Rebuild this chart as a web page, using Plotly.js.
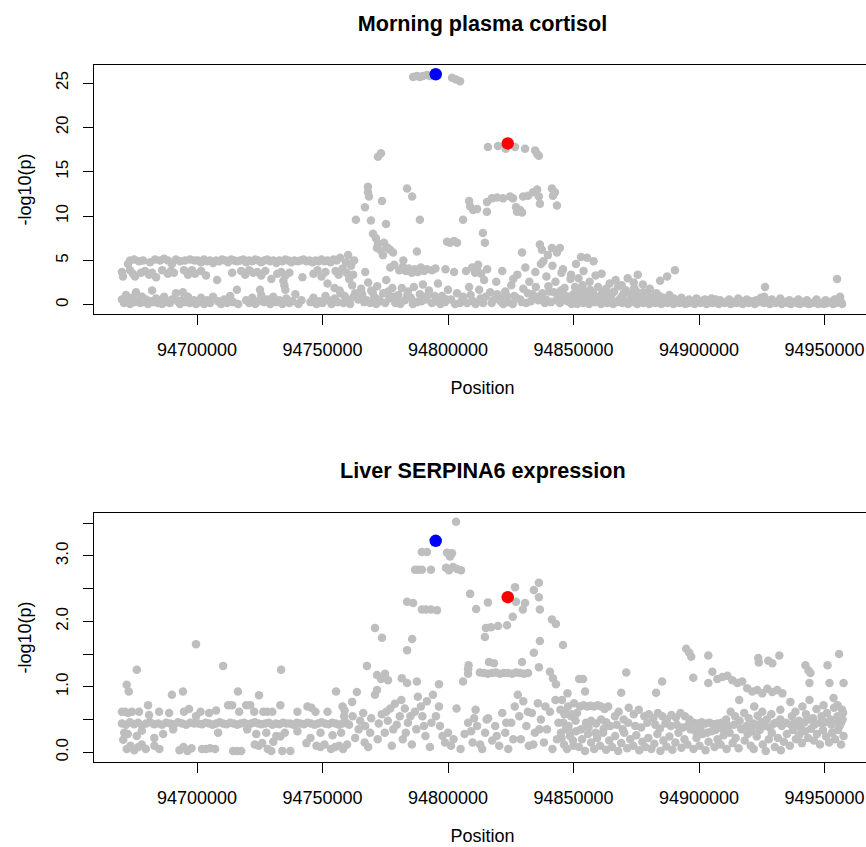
<!DOCTYPE html>
<html>
<head>
<meta charset="utf-8">
<script src="https://cdn.plot.ly/plotly-3.0.1.min.js"></script>
<style>
html, body { margin:0; padding:0; overflow:hidden; background:#fff; }
#chart { width:880px; height:847px; }
</style>
</head>
<body>
<div id="chart"></div>
<script>
// ---------- DATA (positions in kb, values are -log10(p)) ----------
const positionTickValues = [94700000, 94750000, 94800000, 94850000, 94900000, 94950000];
const positionTickLabels = ['94700000','94750000','94800000','94850000','94900000','94950000'];

const leadPosKb = [94795.1, 94823.8];
const leadColors = ['#0000FF', '#FF0000'];
const cortisolLead = [26.0, 18.2];
const expressionLead = [3.23, 2.37];

// Morning plasma cortisol
const cortisolLeft = [
[94672.5,4.6],[94673.3,5.0],[94675.0,5.1],[94676.9,4.9],[94678.5,5.0],[94681.3,4.8],[94683.3,5.1],[94685.3,5.0],[94686.9,5.2],[94688.4,5.0],[94690.0,4.6],[94691.6,5.1],[94693.2,4.9],[94695.2,5.0],[94697.2,5.1],[94699.0,5.0],
[94670.1,3.7],[94670.5,3.2],[94673.3,3.9],[94674.5,3.5],[94675.3,3.2],[94677.7,3.6],[94679.3,3.8],[94680.9,3.4],[94682.1,3.6],[94683.7,3.1],[94686.1,3.9],[94688.4,3.5],[94689.6,3.8],[94690.8,3.6],[94694.8,3.9],[94696.4,3.4],
[94670.1,0.6],[94670.9,0.2],[94671.7,1.1],[94672.5,0.4],[94673.3,0.1],[94674.1,0.8],[94674.9,0.3],[94675.7,1.4],[94676.5,0.5],[94677.3,0.2],[94678.1,0.9],[94678.9,0.3],[94679.7,0.6],[94680.5,0.1],[94681.3,0.4],[94682.1,1.6],[94682.9,0.3],[94683.7,0.7],[94684.5,0.2],[94685.3,0.5],[94686.1,0.1],[94686.9,0.9],[94687.7,0.3],[94689.2,0.2],[94690.0,0.6],[94691.6,1.3],[94692.4,0.4],[94693.2,0.1],[94694.0,0.5],[94695.6,0.3],[94696.4,0.9],[94697.2,0.2],[94698.8,0.5],[94699.6,0.1]
];
const cortisolMid = [
[94700.4,5.0],[94701.6,4.8],[94702.8,5.1],[94704.0,4.9],[94705.2,5.0],[94706.4,4.7],[94707.6,5.0],[94708.8,4.9],[94710.0,5.1],[94711.2,5.0],[94712.4,4.8],[94713.6,5.1],[94714.8,5.0],[94716.0,4.9],[94717.2,5.0],[94718.4,5.1],[94719.6,4.8],[94720.8,5.0],[94722.0,4.9],[94723.2,5.1],[94724.4,5.0],[94725.6,4.8],[94726.8,5.0],[94728.0,5.1],[94729.2,4.9],[94730.4,5.0],[94731.6,4.7],[94732.8,5.0],[94734.0,4.9],[94735.2,5.1],[94736.4,5.0],[94737.6,4.8],[94738.8,5.0],[94740.0,4.9],[94741.2,5.0],[94742.4,5.1],[94743.6,4.9],[94744.8,5.0],[94746.0,4.8],[94747.2,5.0],[94748.4,4.9],[94749.6,5.1],[94750.8,4.9],[94752.0,5.0],[94753.2,4.8],[94754.4,5.1],[94755.6,5.0],
[94698.0,3.9],[94699.2,3.5],[94701.6,3.8],[94703.6,3.3],[94708.0,2.8],[94714.0,3.6],[94717.6,3.8],[94719.2,3.4],[94720.8,3.9],[94722.4,3.6],[94724.0,3.7],[94725.6,3.3],[94727.2,3.8],[94729.6,2.9],[94732.0,3.5],[94733.6,3.7],[94735.2,3.3],[94736.8,3.6],[94742.0,3.1],[94746.4,3.5],[94748.0,3.9],[94749.6,3.2],[94751.2,3.7],[94755.2,3.8],[94756.4,3.4],[94758.0,4.1],[94759.6,3.6],
[94734.4,2.7],[94734.8,2.2],[94735.2,1.7],[94752.0,2.4],[94754.8,1.9],[94756.8,1.6],[94715.9,1.7],[94725.1,1.7],[94694.4,1.4],
[94700.4,0.3],[94701.6,0.8],[94702.8,0.1],[94704.0,0.5],[94705.2,0.2],[94706.4,0.9],[94708.4,0.4],[94709.6,0.1],[94710.8,0.6],[94712.0,0.2],[94713.2,1.0],[94714.4,0.3],[94716.4,0.1],[94719.6,0.5],[94720.8,0.2],[94722.0,0.8],[94723.2,0.1],[94724.4,0.4],[94725.6,1.1],[94726.8,0.3],[94728.0,0.6],[94729.2,0.1],[94730.4,0.9],[94731.6,0.3],[94732.8,0.5],[94734.0,0.1],[94735.6,0.7],[94736.8,0.2],[94738.0,0.4],[94739.2,1.2],[94740.4,0.1],[94741.6,0.5],[94745.2,0.3],[94746.4,0.8],[94747.6,0.1],[94748.8,0.4],[94750.0,0.2],[94751.2,1.0],[94752.4,0.5],[94753.6,0.1],[94754.8,0.7],[94756.0,0.3],[94757.2,1.3],[94758.4,0.2],[94759.6,0.6]
];
const cortisolPeak = [
[94786.1,25.7],[94787.6,25.8],[94788.8,25.7],[94790.0,25.8],[94791.6,25.9],[94792.8,25.8],[94801.6,25.6],[94803.2,25.4],[94804.8,25.2],
[94815.9,17.8],[94819.9,17.9],[94823.0,17.6],[94826.7,17.8],[94830.7,17.6],[94834.7,17.4],[94835.5,17.0],[94836.2,16.8],
[94772.1,16.7],[94773.3,17.1],
[94768.1,13.3],[94768.1,12.7],[94768.5,12.2],[94783.7,13.1],[94785.7,12.2],[94773.7,11.7],[94766.9,11.0],[94763.3,9.6],[94769.3,9.5],[94775.3,9.1],[94788.8,9.6],[94806.0,9.6],
[94808.4,11.7],[94808.8,11.1],[94810.0,10.7],[94811.6,10.8],[94815.5,10.5],
[94815.5,11.6],[94817.5,12.0],[94819.5,12.1],[94821.9,12.0],[94824.7,12.2],[94825.9,12.0],
[94829.9,12.2],[94831.9,12.3],[94833.9,12.7],[94835.5,13.0],[94836.2,12.2],[94836.6,11.4],
[94827.1,11.0],[94828.7,10.7],[94829.5,10.4],[94827.5,10.5],
[94841.4,13.1],[94842.6,12.7],[94841.8,12.3],[94843.4,11.2],
[94770.1,8.0],[94771.3,7.5],[94772.1,6.9],[94771.7,6.4],[94773.3,6.1],[94774.5,7.0],[94775.7,6.5],[94776.9,6.2],[94778.1,5.9],[94774.1,5.6],
[94787.6,6.0],[94799.6,7.1],[94800.8,7.0],[94802.4,7.2],[94803.6,7.0],[94813.9,8.1],[94814.7,7.0],[94829.5,5.9],[94836.6,6.8],[94837.4,6.2],[94839.8,5.6],[94841.4,6.4],[94843.4,5.9],[94844.6,6.4],
[94757.0,5.3],[94759.4,4.8],[94761.4,4.4],[94762.6,5.0],[94760.2,5.6],
[94760.6,2.9],[94761.8,2.2],[94763.0,1.3],[94764.2,0.6],[94765.4,1.8],[94766.6,0.3],[94762.2,3.4],
[94767.0,3.7],[94768.2,2.5],[94769.4,1.6],[94770.6,0.9],[94771.8,2.1],[94773.0,0.4],[94774.2,1.3],[94775.4,2.8],[94776.6,0.7],[94777.8,1.9],[94779.0,0.2],[94780.2,1.1],[94769.0,0.2],[94772.4,0.6],[94777.0,4.2],[94778.6,4.5],[94780.6,3.9],[94782.2,5.0],
[94782.0,4.3],[94783.2,3.8],[94784.4,4.1],[94785.6,3.6],[94786.8,4.0],[94788.0,3.7],[94789.2,4.2],[94790.4,3.8],[94791.6,4.0],[94793.6,3.9],[94795.0,4.1],[94784.0,1.5],[94785.2,0.8],[94786.4,2.0],[94787.6,0.3],[94788.8,1.2],[94790.0,2.3],[94791.2,0.6],[94792.4,1.6],[94793.6,0.2],[94794.8,1.0],[94796.0,2.4],[94782.8,0.5],[94781.6,1.9],
[94797.6,1.0],[94798.8,0.3],[94800.0,1.7],[94801.2,0.6],[94802.4,3.7],[94803.6,1.3],[94804.8,0.2],[94806.0,0.9],[94807.2,3.8],[94808.4,2.0],[94799.0,4.0],
[94809.6,4.2],[94810.8,3.6],[94812.0,4.5],[94813.2,3.5],[94814.4,2.8],[94815.6,4.0],[94816.8,1.4],[94818.0,0.5],[94819.2,2.6],[94820.4,0.9],[94810.0,0.4],[94812.4,1.7],[94814.0,0.2],[94811.6,3.9],
[94821.6,3.8],[94822.8,1.5],[94824.0,0.3],[94825.2,2.2],[94826.4,1.0],[94827.6,3.4],[94828.8,0.6],[94830.0,1.8],[94831.2,0.2],[94832.4,2.6],[94833.6,1.2],[94834.8,3.7],[94836.0,0.5],[94837.0,4.6],[94822.0,0.1],[94826.0,2.9],[94830.8,4.2],[94835.0,2.0],
[94838.0,4.9],[94839.2,3.2],[94840.4,1.5],[94841.6,4.4],[94842.8,2.6],[94844.0,0.8],[94845.2,3.6],[94846.4,1.9],[94847.6,0.4],[94848.8,2.9],[94850.0,1.2],[94838.6,0.2],[94840.0,2.1],[94843.2,0.5],[94845.8,4.0],[94849.2,0.1],
[94758.8,1.0],[94761.0,0.1],[94762.4,0.9],[94765.8,1.2],[94767.6,0.5],[94770.0,1.4],[94771.4,0.1],[94775.0,0.2],[94776.2,1.5],[94778.4,0.9],[94779.8,0.4],[94781.0,0.1],[94783.8,1.1],[94786.0,0.1],[94789.4,0.4],[94792.0,1.1],[94795.4,0.4],[94797.0,0.1],[94799.4,0.6],[94802.8,0.1],[94805.6,0.5],[94807.6,0.2],[94809.0,1.1],[94811.0,0.1],[94813.0,0.7],[94815.0,0.9],[94817.4,0.2],[94819.6,1.2],[94821.0,0.4],[94823.4,1.0],[94825.8,0.1],[94827.2,0.8],[94829.4,0.3],[94831.8,1.3],[94833.0,0.4],[94835.6,0.9],[94837.6,1.3],[94839.0,0.6],[94841.0,0.3],[94842.2,1.4],[94844.6,0.2],[94846.8,1.0],[94848.4,0.6]
];
const cortisolRight = [
[94853.0,5.4],[94855.4,5.3],[94858.0,4.9],[94851.0,4.6],[94849.0,3.4],[94852.0,3.0],[94854.0,3.8],[94856.4,2.6],[94858.8,3.3],[94861.2,3.5],[94864.4,2.4],[94866.8,2.8],[94869.2,2.2],[94871.6,3.0],[94874.0,2.5],[94875.6,3.4],[94877.6,2.3],[94880.4,1.8],
[94884.5,2.7],[94887.3,3.2],[94890.4,3.9],[94926.3,2.0],[94955.0,2.9],
[94845.0,1.6],[94850.6,2.0],[94852.4,1.4],[94853.6,2.2],[94855.0,0.9],[94856.6,1.7],[94858.2,1.1],[94859.8,2.0],[94861.4,1.3],[94863.0,1.8],[94864.8,0.9],[94866.2,1.5],[94867.8,2.1],[94869.4,1.0],[94871.0,1.6],[94872.6,1.2],[94874.2,1.9],[94876.0,0.8],[94877.8,1.4],[94879.6,1.1],[94881.4,0.9],[94883.0,1.3],[94885.6,0.8],[94888.2,1.1],
[94846.0,0.6],[94848.0,0.9],[94851.8,0.8],[94857.0,1.0],
[94851.2,1.2],[94853.2,0.8],[94854.4,1.5],[94856.0,0.5],[94857.8,1.3],[94860.4,0.8],[94862.6,1.0],[94865.2,1.2],[94868.6,0.7],[94870.0,1.3],[94873.4,0.9],[94875.0,1.5],[94878.4,0.7],[94882.0,0.5],[94884.2,1.0],[94886.8,0.6],[94890.0,0.7],[94893.0,0.8],[94896.0,0.6],[94899.0,0.7],[94902.4,0.6],[94905.0,0.7],[94908.4,0.5],[94912.0,0.6],[94915.6,0.7],[94919.0,0.6],[94922.8,0.5],[94926.0,0.9],[94929.0,0.6],[94932.4,0.7],[94936.0,0.5],[94939.6,0.6],[94943.0,0.5],[94946.8,0.6],[94950.4,0.5],[94954.0,0.6],[94956.2,0.9],
[94850.4,0.3],[94851.4,0.1],[94852.6,0.6],[94853.8,0.2],[94855.0,0.4],[94856.2,0.1],[94857.4,0.7],[94858.6,0.3],[94859.8,0.5],[94861.0,0.1],[94862.2,0.4],[94863.4,0.2],[94864.6,0.6],[94865.8,0.1],[94867.0,0.3],[94868.2,0.5],[94869.4,0.2],[94870.6,0.4],[94871.8,0.1],[94873.0,0.6],[94874.2,0.3],[94875.4,0.1],[94876.6,0.4],[94877.8,0.2],[94879.0,0.5],[94880.2,0.1],[94881.4,0.3],[94882.6,0.2],[94883.8,0.6],[94885.0,0.1],[94886.2,0.3],[94887.4,0.2],[94888.6,0.4],[94889.8,0.1],[94891.0,0.3],[94892.2,0.2],[94893.4,0.5],[94894.6,0.1],[94895.8,0.2],[94897.0,0.4],[94898.2,0.1],[94899.4,0.3],[94900.6,0.2],[94901.8,0.5],[94903.0,0.1],[94904.2,0.3],[94905.4,0.2],[94906.6,0.6],[94907.8,0.1],[94909.0,0.3],[94910.2,0.2],[94911.4,0.4],[94912.6,0.1],[94913.8,0.3],[94915.0,0.2],[94916.2,0.5],[94917.4,0.1],[94918.6,0.3],[94919.8,0.2],[94921.0,0.4],[94922.2,0.1],[94923.4,0.3],[94924.6,0.8],[94925.8,0.2],[94927.0,0.5],[94928.2,0.1],[94929.4,0.3],[94930.6,0.2],[94931.8,0.4],[94933.0,0.1],[94934.2,0.3],[94935.4,0.2],[94936.6,0.1],[94937.8,0.3],[94939.0,0.2],[94940.2,0.1],[94941.4,0.3],[94942.6,0.2],[94943.8,0.1],[94945.0,0.2],[94946.2,0.3],[94947.4,0.1],[94948.6,0.2],[94949.8,0.1],[94951.0,0.2],[94952.2,0.3],[94953.4,0.1],[94954.6,0.2],[94955.8,0.6],[94956.6,0.3],[94957.0,0.1]
];

// Liver SERPINA6 expression
const expressionLeft = [
[94670.1,0.44],[94671.7,0.42],[94673.3,0.46],[94674.9,0.43],[94676.5,0.45],[94678.1,0.41],[94679.7,0.44],[94681.3,0.46],[94682.9,0.43],[94684.5,0.44],[94686.1,0.42],[94687.7,0.45],[94689.3,0.44],[94690.9,0.43],[94692.5,0.46],[94694.1,0.44],[94695.7,0.42],[94697.3,0.45],[94698.9,0.44],
[94670.1,0.62],[94671.3,0.62],[94672.5,0.60],[94674.1,0.62],[94676.9,0.62],[94680.9,0.57],[94684.9,0.62],[94688.9,0.60],[94694.8,0.62],[94696.8,0.66],[94699.6,0.55],
[94671.0,0.30],[94676.0,0.25],[94678.0,0.33],[94686.5,0.28],[94690.5,0.35],[94683.0,0.22],[94670.6,0.19],[94672.4,0.28],
[94672.0,0.05],[94673.5,0.10],[94675.0,0.03],[94676.6,0.08],[94678.0,0.12],[94679.6,0.05],[94683.0,0.10],[94685.0,0.05],[94693.0,0.03],[94694.6,0.08],[94696.2,0.02],[94697.8,0.06],
[94672.0,1.03],[94672.8,0.93],[94676.0,1.26],[94680.5,0.72],[94690.0,0.88],[94694.4,0.93],[94699.6,1.65]
];
const expressionMid = [
[94700.6,0.44],[94702.0,0.43],[94703.4,0.45],[94704.8,0.44],[94706.2,0.42],[94707.6,0.44],[94709.0,0.46],[94710.4,0.44],[94711.8,0.43],[94713.2,0.45],[94714.6,0.44],[94716.0,0.42],[94717.4,0.44],[94718.8,0.45],[94720.2,0.43],[94721.6,0.44],[94723.0,0.46],[94724.4,0.44],[94725.8,0.43],[94727.2,0.44],[94728.6,0.45],[94730.0,0.42],[94731.4,0.44],[94732.8,0.43],[94734.2,0.45],[94735.6,0.44],[94737.0,0.44],[94738.4,0.42],[94739.8,0.45],[94741.2,0.44],[94742.6,0.43],[94744.0,0.45],[94745.4,0.44],[94746.8,0.42],[94748.2,0.44],[94749.6,0.46],[94751.0,0.44],[94752.4,0.43],[94753.8,0.45],[94755.2,0.44],[94756.6,0.42],[94758.0,0.44],[94759.4,0.45],
[94701.4,0.62],[94704.8,0.60],[94707.6,0.64],[94712.4,0.72],[94714.0,0.72],[94716.8,0.62],[94719.6,0.72],[94721.2,0.72],[94722.8,0.62],[94726.4,0.62],[94728.0,0.62],[94730.0,0.62],[94733.2,0.72],[94740.0,0.62],[94744.0,0.70],[94745.6,0.68],[94747.2,0.62],[94752.0,0.62],[94758.8,0.64],
[94708.4,0.30],[94720.0,0.35],[94723.6,0.28],[94727.6,0.30],[94731.6,0.25],[94735.0,0.30],[94733.2,0.24],[94740.0,0.32],[94745.2,0.22],[94749.2,0.30],[94754.0,0.26],
[94702.0,0.05],[94703.6,0.05],[94705.2,0.06],[94707.2,0.05],[94714.4,0.02],[94716.0,0.02],[94717.6,0.02],[94723.0,0.12],[94724.6,0.10],[94726.0,0.14],[94728.2,0.05],[94729.6,0.02],[94730.4,0.16],[94734.0,0.02],[94737.2,0.02],[94743.6,0.14],[94747.6,0.10],[94749.2,0.08],[94750.8,0.12],[94753.4,0.05],[94755.0,0.08],[94756.6,0.10],[94758.2,0.05],
[94710.4,1.32],[94716.3,0.93],[94724.7,0.87],[94733.5,1.26],[94755.4,0.93],[94761.8,0.77],[94763.7,0.92],[94767.7,1.32],[94770.9,1.90],[94773.7,1.75],[94771.7,1.18],[94774.9,1.20]
];
const expressionPeak = [
[94803.2,3.52],[94789.6,3.06],[94791.6,3.06],[94799.6,3.05],[94800.8,2.99],[94801.6,3.04],
[94786.9,2.79],[94788.1,2.79],[94789.6,2.79],[94793.2,2.79],[94799.2,2.82],[94800.4,2.78],[94802.0,2.83],[94803.6,2.80],[94805.2,2.78],
[94808.8,2.42],[94815.9,2.29],[94826.7,2.52],[94811.2,2.19],[94827.1,2.30],[94830.7,2.28],[94829.8,2.18],[94825.8,2.07],[94834.2,2.48],[94836.2,2.59],[94836.2,2.37],[94836.6,2.18],
[94783.7,2.30],[94786.1,2.28],[94789.6,2.18],[94791.2,2.18],[94793.2,2.18],[94795.6,2.17],
[94785.7,1.73],[94783.7,1.56],
[94815.1,1.90],[94817.1,1.91],[94819.9,1.93],[94823.5,1.94],[94814.7,1.76],
[94841.4,2.03],[94843.0,1.96],[94836.6,1.70],[94834.2,1.52],[94845.8,1.64],
[94812.7,1.22],[94814.3,1.21],[94815.9,1.20],[94817.5,1.21],[94819.1,1.22],[94820.7,1.20],[94822.3,1.21],[94823.9,1.21],[94825.5,1.20],[94827.1,1.22],[94828.7,1.21],[94830.3,1.20],[94831.9,1.21],[94816.3,1.38],[94818.3,1.36],
[94808.0,1.20],[94808.0,1.27],[94808.2,1.33],[94829.5,1.38],[94836.2,1.30],
[94840.6,1.23],[94841.8,1.13],[94843.0,1.04],
[94773.3,1.12],[94776.1,1.10],[94781.6,1.13],[94783.7,1.06],[94787.6,1.08],[94796.4,1.04],[94806.0,1.08],[94852.2,1.12],[94853.8,1.12],
[94757.4,0.30],[94758.6,0.55],[94759.8,0.12],[94760.6,0.42],[94763.0,0.22],[94765.0,0.48],[94766.2,0.60],[94767.0,0.40],[94768.2,0.08],[94769.4,0.52],[94770.9,0.88],[94771.7,0.95],[94772.4,0.44],[94773.6,0.58],[94774.8,0.30],[94776.0,0.48],[94777.0,0.67],[94777.6,0.10],[94778.8,0.74],[94779.6,0.42],[94780.8,0.55],[94782.0,0.20],[94782.8,0.67],[94784.0,0.45],[94785.6,0.12],[94786.8,0.62],[94788.0,0.85],[94789.2,0.70],[94790.4,0.40],[94791.6,0.78],[94792.8,0.08],[94794.0,0.88],[94795.2,0.55],[94796.4,0.70],[94797.8,0.25],[94798.8,0.15],[94800.0,0.30],[94801.2,0.10],[94802.2,0.20],[94803.4,0.67],[94805.0,0.05],[94806.6,0.28],[94808.0,0.45],[94809.2,0.32],[94810.4,0.52],[94811.6,0.40],[94812.8,0.12],[94813.6,0.05],[94814.8,0.30],[94816.0,0.52],[94817.6,0.18],[94818.8,0.40],[94820.4,0.10],[94821.6,0.60],[94822.8,0.30],[94824.0,0.05],[94825.2,0.45],[94826.6,0.70],[94827.8,0.88],[94829.0,0.20],[94830.0,0.78],[94831.2,0.40],[94832.2,0.10],[94833.4,0.60],[94834.6,0.30],[94835.8,0.75],[94837.0,0.50],[94838.2,0.15],[94839.4,0.35],[94840.6,0.62],[94841.6,0.05],[94842.8,0.80],[94844.0,0.45],[94845.2,0.22],[94846.4,0.58],[94847.6,0.90],[94848.8,0.30],[94850.0,0.10],
[94758.0,0.70],[94762.0,0.55],[94764.4,0.35],[94766.8,0.15],[94769.0,0.30],[94772.0,0.20],[94775.4,0.62],[94778.2,0.35],[94781.4,0.80],[94783.2,0.30],[94785.0,0.55],[94787.4,0.35],[94789.8,0.55],[94791.0,0.25],[94793.4,0.45],[94796.8,0.40],[94809.8,0.15],[94811.0,0.65],[94815.4,0.50],[94819.4,0.25],[94823.2,0.45],[94826.0,0.20],[94828.4,0.55],[94831.8,0.62],[94834.0,0.12],[94836.4,0.35],[94838.8,0.70],[94843.4,0.20],[94844.8,0.65],[94847.0,0.35],[94849.4,0.58]
];
const expressionRight = [
[94854.6,0.93],[94871.0,1.22],[94869.0,0.91],[94885.3,1.08],[94882.9,0.91],
[94894.9,1.58],[94896.1,1.52],[94896.9,1.46],[94903.7,1.48],[94897.7,1.14],[94905.3,1.23],[94903.7,1.06],
[94907.3,1.12],[94909.3,1.15],[94911.3,1.17],[94913.3,1.10],[94915.3,1.06],[94917.2,1.08],
[94919.2,0.98],[94921.2,0.93],[94923.2,0.95],[94925.2,0.90],[94927.2,0.97],[94929.2,0.92],[94931.2,0.95],[94933.2,0.90],
[94923.6,1.44],[94923.8,1.37],[94927.6,1.40],[94929.2,1.36],[94932.0,1.48],
[94916.0,0.80],[94922.0,0.70],[94932.4,0.65],[94936.4,0.77],
[94942.4,1.33],[94943.6,1.25],[94944.4,1.21],[94944.0,1.06],[94951.2,1.33],[94955.8,1.50],[94952.0,1.06],[94957.6,1.06],
[94953.6,0.83],[94955.2,0.72],[94957.0,0.65],
[94845.4,0.80],[94846.6,0.62],[94847.8,0.70],[94849.0,0.55],[94850.2,0.75],[94851.4,0.60],
[94852.6,0.70],[94854.0,0.72],[94855.4,0.70],[94856.8,0.71],[94858.2,0.70],[94859.6,0.72],[94861.0,0.70],[94862.4,0.66],[94863.8,0.70],
[94855.0,0.45],[94857.0,0.48],[94859.0,0.44],[94861.0,0.50],[94863.0,0.46],
[94866.5,0.55],[94868.0,0.62],[94870.0,0.50],[94872.0,0.68],[94874.0,0.58],[94876.0,0.65],
[94878.2,0.55],[94880.0,0.58],[94881.8,0.52],[94883.6,0.60],[94885.4,0.55],[94887.2,0.50],[94889.0,0.57],[94890.8,0.53],[94892.6,0.60],[94894.4,0.55],[94896.2,0.50],
[94897.8,0.45],[94899.4,0.44],[94901.0,0.46],[94902.6,0.44],[94904.2,0.45],[94905.8,0.43],[94907.4,0.44],[94909.0,0.45],
[94910.8,0.50],[94912.6,0.62],[94914.4,0.55],[94916.2,0.48],[94918.0,0.60],[94919.8,0.52],[94921.6,0.44],[94923.4,0.56],[94925.2,0.62],[94927.0,0.50],[94928.8,0.58],[94930.6,0.45],[94932.4,0.50],
[94937.0,0.55],[94938.4,0.62],[94939.8,0.48],[94941.2,0.70],[94942.6,0.58],[94944.0,0.80],[94945.4,0.52],[94946.8,0.66],[94948.2,0.45],[94949.6,0.72],[94951.0,0.60],[94952.4,0.50],[94953.8,0.68],[94955.2,0.55],[94956.6,0.45],[94957.4,0.60],
[94846.0,0.45],[94848.0,0.40],[94850.8,0.48],[94853.0,0.35],[94856.0,0.38],[94858.8,0.30],[94862.0,0.36],[94864.6,0.40],[94867.2,0.42],[94869.6,0.35],[94871.8,0.45],[94874.6,0.40],[94877.0,0.38],[94879.4,0.45],[94882.6,0.42],[94884.4,0.36],[94886.6,0.44],[94888.8,0.40],[94891.2,0.42],[94893.6,0.38],[94895.8,0.42],[94898.6,0.32],[94900.6,0.38],[94903.2,0.30],[94906.6,0.34],[94909.4,0.36],[94911.8,0.40],[94914.0,0.42],[94916.8,0.36],[94919.0,0.40],[94921.0,0.32],[94922.6,0.42],[94924.8,0.46],[94926.0,0.40],[94928.2,0.38],[94930.0,0.44],[94933.0,0.40],[94934.6,0.45],[94936.6,0.42],[94938.0,0.44],[94940.4,0.38],[94942.0,0.46],[94944.2,0.50],[94946.0,0.42],[94948.8,0.55],[94950.2,0.46],[94952.8,0.42],[94954.6,0.48],[94956.0,0.40],[94957.2,0.50],
[94845.0,0.30],[94846.2,0.12],[94847.4,0.05],[94848.6,0.25],[94849.8,0.18],[94851.0,0.32],[94852.2,0.08],[94853.4,0.20],[94854.6,0.02],[94855.8,0.28],[94857.0,0.15],[94858.2,0.05],[94859.4,0.22],[94860.6,0.10],[94861.8,0.30],[94863.0,0.04],[94864.2,0.18],[94865.4,0.08],[94866.6,0.25],[94867.8,0.02],[94869.0,0.14],[94870.2,0.30],[94871.4,0.06],[94872.6,0.20],[94873.8,0.10],[94875.0,0.26],[94876.2,0.03],[94877.4,0.16],[94878.6,0.08],[94879.8,0.22],[94881.0,0.05],[94882.2,0.13],[94883.4,0.28],[94884.6,0.02],[94885.8,0.18],[94887.0,0.09],[94888.2,0.24],[94889.4,0.04],[94890.6,0.15],[94891.8,0.30],[94893.0,0.07],[94894.2,0.20],[94895.4,0.12],[94896.6,0.35],[94897.8,0.05],[94899.0,0.22],[94900.2,0.10],[94901.4,0.28],[94902.6,0.03],[94903.8,0.16],[94905.0,0.32],[94906.2,0.08],[94907.4,0.20],[94908.6,0.12],[94909.8,0.26],[94911.0,0.05],[94912.2,0.30],[94913.4,0.14],[94914.6,0.22],[94915.8,0.06],[94917.0,0.35],[94918.2,0.18],[94919.4,0.28],[94920.6,0.10],[94921.8,0.05],[94923.0,0.24],[94924.2,0.34],[94925.4,0.12],[94926.6,0.02],[94927.8,0.20],[94929.0,0.30],[94930.2,0.08],[94931.4,0.22],[94932.6,0.03],[94933.8,0.16],[94935.0,0.28],[94936.2,0.10],[94937.4,0.34],[94938.6,0.20],[94939.8,0.26],[94941.0,0.14],[94942.2,0.32],[94943.4,0.22],[94944.6,0.36],[94945.8,0.18],[94947.0,0.28],[94948.2,0.12],[94949.4,0.34],[94950.6,0.24],[94951.8,0.15],[94953.0,0.30],[94954.2,0.20],[94955.4,0.34],[94956.6,0.12],[94957.6,0.25]
];

// ---------- BUILD ----------
const toBp = kb => Math.round(kb * 1000);
const cortisolAll = cortisolLeft.concat(cortisolMid, cortisolPeak, cortisolRight);
const expressionAll = expressionLeft.concat(expressionMid, expressionPeak, expressionRight);

const GREY = '#BEBEBE';
const FONT = 'Liberation Sans, Arial, Helvetica, sans-serif';

function greyTrace(points, xa, ya) {
  return {
    type: 'scatter', mode: 'markers', xaxis: xa, yaxis: ya,
    x: points.map(p => toBp(p[0])), y: points.map(p => p[1]),
    marker: { color: GREY, size: 8.5, line: { width: 0 } },
    hoverinfo: 'x+y', showlegend: false
  };
}
function leadTrace(vals, xa, ya) {
  return {
    type: 'scatter', mode: 'markers', xaxis: xa, yaxis: ya,
    x: leadPosKb.map(toBp), y: vals,
    marker: { color: leadColors, size: 12.5, line: { width: 0 } },
    hoverinfo: 'x+y', showlegend: false
  };
}

const W = 880, H = 847;
const xDomain = [94 / W, 871 / W];
const topDomain = [(H - 314) / H, (H - 65) / H];
const botDomain = [(H - 762.3) / H, (H - 512.7) / H];

function xAxis(anchor) {
  return {
    domain: xDomain, anchor: anchor,
    range: [94658960, 94968520],
    tickvals: positionTickValues, ticktext: positionTickLabels,
    ticks: 'outside', ticklen: 10, tickwidth: 1, tickcolor: '#000',
    showline: true, mirror: true, linecolor: '#000', linewidth: 1,
    showgrid: false, zeroline: false,
    tickfont: { family: FONT, size: 18, color: '#000' },
    ticklabelstandoff: 9,
    title: { text: 'Position', font: { family: FONT, size: 18, color: '#000' }, standoff: 22 },
    automargin: false, fixedrange: true
  };
}
function yAxis(anchor, domain, range, vals, labels) {
  return {
    domain: domain, anchor: anchor, range: range,
    tickvals: vals, ticktext: labels, tickangle: -90,
    ticks: 'outside', ticklen: 10, tickwidth: 1, tickcolor: '#000',
    showline: true, mirror: true, linecolor: '#000', linewidth: 1,
    showgrid: false, zeroline: false,
    tickfont: { family: FONT, size: 17, color: '#000' },
    ticklabelstandoff: 8,
    title: { text: '-log10(p)', font: { family: FONT, size: 18, color: '#000' }, standoff: 16 },
    automargin: false, fixedrange: true
  };
}

const data = [
  greyTrace(cortisolAll, 'x', 'y'),
  leadTrace(cortisolLead, 'x', 'y'),
  greyTrace(expressionAll, 'x2', 'y2'),
  leadTrace(expressionLead, 'x2', 'y2')
];

const layout = {
  width: W, height: H,
  margin: { l: 0, r: 0, t: 0, b: 0 },
  paper_bgcolor: '#fff', plot_bgcolor: '#fff',
  showlegend: false,
  font: { family: FONT, color: '#000' },
  title: {
    text: '<b>Morning plasma cortisol</b>',
    font: { family: FONT, size: 21.6, color: '#000' },
    x: (94 + 871) / 2 / W, xanchor: 'center', xref: 'paper',
    y: 1 - 23 / H, yanchor: 'middle', yref: 'container'
  },
  xaxis: xAxis('y'),
  yaxis: yAxis('x', topDomain, [-1.04, 27.04], [0, 5, 10, 15, 20, 25], ['0', '5', '10', '15', '20', '25']),
  xaxis2: xAxis('y2'),
  yaxis2: yAxis('x2', botDomain, [-0.153, 3.66], [0, 0.5, 1, 1.5, 2, 2.5, 3, 3.5], ['0.0', '', '1.0', '', '2.0', '', '3.0', '']),
  annotations: [{
    text: '<b>Liver SERPINA6 expression</b>',
    font: { family: FONT, size: 21.6, color: '#000' },
    xref: 'paper', yref: 'paper',
    x: (94 + 871) / 2 / W, y: 1 - 470 / H,
    xanchor: 'center', yanchor: 'middle', showarrow: false
  }]
};

Plotly.newPlot('chart', data, layout, { displayModeBar: false, staticPlot: true });
</script>
</body>
</html>
